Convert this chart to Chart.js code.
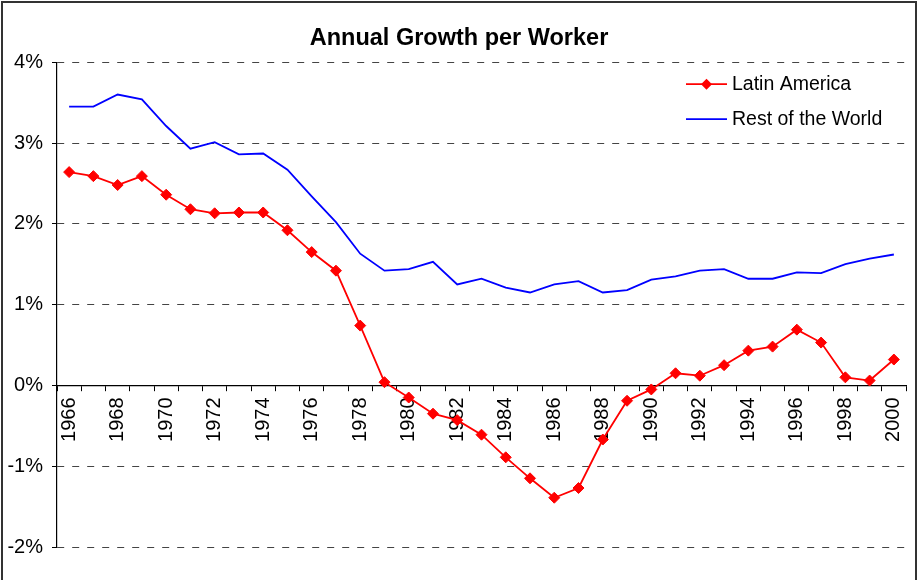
<!DOCTYPE html>
<html>
<head>
<meta charset="utf-8">
<script src="https://cdn.jsdelivr.net/npm/chart.js@4.4.1/dist/chart.umd.min.js"></script>
<style>
  html, body { margin: 0; padding: 0; background: #fff; }
  #wrap { width: 918px; height: 580px; position: relative; }
</style>
</head>
<body>
<div id="wrap"><canvas id="myChart"></canvas></div>
<script>
// data
const years = ['1966','1967','1968','1969','1970','1971','1972','1973','1974','1975',
  '1976','1977','1978','1979','1980','1981','1982','1983','1984','1985',
  '1986','1987','1988','1989','1990','1991','1992','1993','1994','1995',
  '1996','1997','1998','1999','2000'];

const latinAmerica = [2.64, 2.59, 2.48, 2.59, 2.36, 2.18, 2.13, 2.14, 2.14, 1.92,
  1.65, 1.42, 0.74, 0.04, -0.15, -0.35, -0.43, -0.61, -0.89, -1.15,
  -1.39, -1.27, -0.67, -0.19, -0.05, 0.15, 0.12, 0.25, 0.43, 0.48,
  0.69, 0.53, 0.10, 0.06, 0.32];

const restOfWorld = [3.45, 3.45, 3.60, 3.54, 3.21, 2.93, 3.01, 2.86, 2.87, 2.67,
  2.34, 2.02, 1.63, 1.42, 1.44, 1.53, 1.25, 1.32, 1.21, 1.15,
  1.25, 1.29, 1.15, 1.18, 1.31, 1.35, 1.42, 1.44, 1.32, 1.32,
  1.40, 1.39, 1.50, 1.57, 1.62];

const yTicks = [-2, -1, 0, 1, 2, 3, 4];

const FONT = 'Arial, "Liberation Sans", sans-serif';

// frame around the whole picture
const framePlugin = {
  id: 'frame',
  afterDraw(chart) {
    const ctx = chart.ctx;
    ctx.save();
    ctx.strokeStyle = '#333';
    ctx.lineWidth = 2;
    ctx.beginPath();
    ctx.moveTo(2, 600);
    ctx.lineTo(2, 2);
    ctx.lineTo(916, 2);
    ctx.lineTo(916, 600);
    ctx.stroke();
    ctx.restore();
  }
};

// legend drawn inside the plot, top right
const innerLegend = {
  id: 'innerLegend',
  afterDatasetsDraw(chart) {
    const ctx = chart.ctx;
    const area = chart.chartArea;
    const x0 = area.right - 220;
    let y = area.top + 22;
    ctx.save();
    ctx.font = '19.5px ' + FONT;
    ctx.textBaseline = 'middle';
    chart.data.datasets.forEach(ds => {
      ctx.strokeStyle = ds.borderColor;
      ctx.lineWidth = ds.borderWidth;
      ctx.beginPath();
      ctx.moveTo(x0, y);
      ctx.lineTo(x0 + 41, y);
      ctx.stroke();
      if (ds.pointRadius > 0) {
        ctx.fillStyle = ds.pointBackgroundColor;
        ctx.beginPath();
        ctx.moveTo(x0 + 20.5, y - 5.5);
        ctx.lineTo(x0 + 26, y);
        ctx.lineTo(x0 + 20.5, y + 5.5);
        ctx.lineTo(x0 + 15, y);
        ctx.closePath();
        ctx.fill();
      }
      ctx.fillStyle = '#000';
      ctx.fillText(ds.label, x0 + 46, y);
      y += 35;
    });
    ctx.restore();
  }
};

const ctx = document.getElementById('myChart').getContext('2d');
const myChart = new Chart(ctx, {
  type: 'line',
  data: {
    labels: years,
    datasets: [{
      label: 'Latin America',
      data: latinAmerica,
      borderColor: '#ff0000',
      backgroundColor: '#ff0000',
      pointBackgroundColor: '#ff0000',
      pointBorderColor: '#ff0000',
      pointStyle: 'rectRot',
      pointRadius: 5.5,
      pointBorderWidth: 1,
      borderWidth: 1.8,
      tension: 0
    }, {
      label: 'Rest of the World',
      data: restOfWorld,
      borderColor: '#0000ff',
      backgroundColor: '#0000ff',
      pointRadius: 0,
      borderWidth: 1.8,
      tension: 0
    }]
  },
  options: {
    responsive: true,
    maintainAspectRatio: false,
    animation: false,
    layout: { padding: { left: 0, right: 0, top: 0, bottom: 33 } },
    plugins: {
      legend: { display: false },
      tooltip: { enabled: false },
      title: {
        display: true,
        text: 'Annual Growth per Worker',
        color: '#000',
        font: { family: FONT, size: 23.5, weight: 'bold' },
        padding: { top: 24, bottom: 10 }
      }
    },
    scales: {
      x: {
        type: 'category',
        position: { y: 0 },
        offset: true,
        // keep the plot right edge at the same place as the picture
        afterFit: scale => { scale.paddingLeft = 0; scale.paddingRight = 12; },
        grid: {
          offset: true,
          drawOnChartArea: false,
          drawTicks: true,
          tickLength: 5,
          tickColor: '#000'
        },
        border: { color: '#000', width: 1.2 },
        ticks: {
          autoSkip: false,
          maxRotation: 90,
          minRotation: 90,
          padding: 7,
          color: '#000',
          font: { family: FONT, size: 20 },
          callback: function (val, i) {
            return i % 2 === 0 ? this.getLabelForValue(val) : '';
          }
        }
      },
      y: {
        min: -2,
        max: 4,
        afterBuildTicks: scale => {
          scale.ticks = yTicks.map(v => ({ value: v }));
        },
        afterFit: scale => { scale.width = 57; },
        grid: {
          color: '#444',
          lineWidth: 1,
          tickLength: 5,
          tickColor: '#000',
          tickBorderDash: [],
          drawTicks: true
        },
        // in v4 border.dash also dashes the grid lines
        border: { color: '#000', width: 1.2, dash: [7, 8] },
        ticks: {
          padding: 9,
          color: '#000',
          font: { family: FONT, size: 20 },
          callback: v => v + '%'
        }
      }
    }
  },
  plugins: [framePlugin, innerLegend]
});
</script>
</body>
</html>
